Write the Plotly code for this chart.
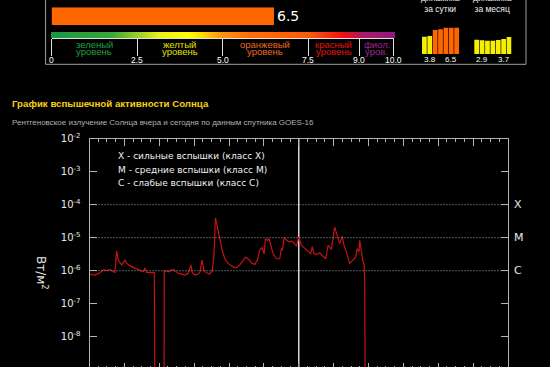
import math
import plotly.graph_objects as go

W, H = 550, 367

# ---------------- data ----------------
current_index = 6.5
scale_ticks = [0, 2.5, 5.0, 7.5, 9.0, 10.0]
scale_tick_labels = ["0", "2.5", "5.0", "7.5", "9.0", "10.0"]
level_line1 = ["зеленый", "желтый", "оранжевый", "красный", "фиол."]
level_line2 = ["уровень", "уровень", "уровень", "уровень", "уров."]
level_text_colors = ["#23a040", "#e2e000", "#ee6a1e", "#e51515", "#a0289a"]
level_bar_colors = ["#22a03c", "#f4f000", "#ff6600", "#ee1c1c", "#a3279b"]

day_values = [3.8, 4.0, 5.8, 6.0, 6.5, 6.5, 6.5]
month_values = [2.9, 2.7, 2.6, 2.6, 2.8, 3.1, 3.7]

# GOES-16 X-ray flux, hours since start of yesterday, W/m^2
hours = [0.0, 0.63, 1.20, 1.58, 1.97, 2.35, 2.73, 2.92, 3.11, 3.30, 3.68, 4.07, 4.26, 4.64,
         5.21, 5.78, 6.17, 6.36, 6.55, 7.12, 7.43, 7.50, 8.55, 8.57, 9.03, 9.60, 9.79, 10.18,
         10.56, 10.94, 11.32, 11.63, 11.78, 12.08, 12.47, 12.66, 12.92, 13.12, 13.42, 13.80,
         14.07, 14.26, 14.45, 14.76, 14.95, 15.22, 15.52, 15.90, 16.48, 16.86, 17.24, 17.51,
         17.89, 18.27, 18.58, 18.96, 19.26, 19.53, 19.80, 20.03, 20.18, 20.41, 20.60, 20.79,
         21.06, 21.44, 21.82, 22.01, 22.13, 22.32, 22.58, 22.85, 23.16, 23.46, 23.73, 24.00,
         24.30, 24.68, 25.07, 25.37, 25.56, 25.74, 26.02, 26.40, 26.78, 27.09, 27.36, 27.74,
         28.12, 28.39, 28.69, 29.00, 29.19, 29.46, 29.84, 30.22, 30.53, 30.68, 30.91, 30.99,
         31.18, 31.37, 31.48, 31.56, 31.63]
flux = [7.9e-7, 7.4e-7, 8.7e-7, 1.05e-6, 1.0e-6, 1.1e-6, 9.3e-7, 8.9e-7, 4.0e-6, 2.1e-6, 1.5e-6,
        2.1e-6, 1.7e-6, 1.4e-6, 1.2e-6, 1.0e-6, 9.3e-7, 1.2e-6, 8.9e-7, 8.7e-7, 8.9e-7, 1e-10,
        1e-10, 1.0e-6, 9.3e-7, 1.1e-6, 1.0e-6, 8.3e-7, 7.9e-7, 7.4e-7, 8.3e-7, 1.5e-6, 8.7e-7,
        7.4e-7, 7.9e-7, 9.3e-7, 2.1e-6, 1.0e-6, 8.7e-7, 7.9e-7, 1.0e-6, 2.6e-6, 4.0e-5, 1.66e-5,
        1.05e-5, 4.2e-6, 2.3e-6, 1.66e-6, 1.3e-6, 1.23e-6, 1.5e-6, 1.95e-6, 2.6e-6, 2.2e-6,
        1.7e-6, 1.55e-6, 2.1e-6, 4.2e-6, 5.0e-6, 3.2e-6, 9.3e-6, 8.3e-6, 9.3e-6, 5.9e-6, 3.3e-6,
        2.3e-6, 2.3e-6, 4.7e-6, 4.2e-6, 1.0e-5, 8.3e-6, 7.4e-6, 7.9e-6, 6.9e-6, 5.5e-6, 1.05e-5,
        5.9e-6, 4.7e-6, 3.7e-6, 3.3e-6, 5.4e-6, 3.3e-6, 3.1e-6, 3.5e-6, 2.75e-6, 2.3e-6, 5.9e-6,
        4.4e-6, 2.1e-5, 1.3e-5, 6.6e-6, 1.1e-5, 5.9e-6, 3.7e-6, 1.66e-6, 2.1e-6, 2.6e-6, 4.7e-6,
        3.7e-6, 8.3e-6, 3.3e-6, 1.86e-6, 1.66e-6, 5.2e-7, 1e-10]
time_span = [0, 48]
midnight_hour = 24
y_exponents = [-2, -3, -4, -5, -6, -7, -8, -9]
class_levels = [1e-4, 1e-5, 1e-6]
class_names = ["X", "M", "C"]
legend_lines = ["X - сильные вспышки (класс X)",
                "M - средние вспышки (класс M)",
                "C - слабые вспышки (класс C)"]
title_text = "График вспышечной активности Солнца"
subtitle_text = "Рентгеновское излучение Солнца вчера и сегодня по данным спутника GOES-16"
day_title = "динамика<br>за сутки"
month_title = "динамика<br>за месяц"

# ---------------- helpers ----------------
def px_x(p):
    return p / W

def px_y(p):
    return 1 - p / H

def level_color(v):
    for i in range(len(scale_ticks) - 1):
        if v < scale_ticks[i + 1]:
            return level_bar_colors[i]
    return level_bar_colors[-1]

DV = "DejaVu Sans"
LS = "Liberation Sans"
AX = "#b4b4b4"
MINI_FLOOR = -1.39

colorscale = [
    [0.00, "#1a9641"], [0.18, "#3aa83a"], [0.31, "#e8ee1a"], [0.40, "#ffff00"],
    [0.44, "#ffd800"], [0.50, "#ff9010"], [0.58, "#ff6c08"], [0.65, "#ff6600"],
    [0.75, "#f95a10"], [0.85, "#ee1010"], [0.91, "#a81a6a"], [1.00, "#8e1a80"],
]

fig = go.Figure()

# dotted class level lines (on the bottom-tick axis)
for lvl in class_levels:
    fig.add_trace(go.Scatter(x=time_span, y=[lvl, lvl], mode="lines", xaxis="x2", yaxis="y",
                             line=dict(color="#a8a8a8", width=1, dash="1px,2px"),
                             hoverinfo="skip", showlegend=False))

# main flux line
fig.add_trace(go.Scatter(x=hours, y=flux, mode="lines", xaxis="x", yaxis="y",
                         line=dict(color="#c81212", width=1.2), hoverinfo="skip",
                         showlegend=False))

# current index bar (colour from scale colorscale) + colour bar
fig.add_trace(go.Bar(x=[current_index], y=[0], orientation="h", width=1,
                     xaxis="x3", yaxis="y4", text=[f"{current_index:.1f}"],
                     textposition="outside", cliponaxis=False,
                     textfont=dict(family=DV, size=14, color="#ffffff"),
                     marker=dict(color=[current_index], colorscale=colorscale, cmin=0, cmax=10,
                                 showscale=True, line=dict(width=0),
                                 colorbar=dict(orientation="h", x=px_x(51), xanchor="left",
                                               y=px_y(31.7), yanchor="top",
                                               len=344, lenmode="pixels",
                                               thickness=6, thicknessmode="pixels",
                                               xpad=0, ypad=0, outlinewidth=0,
                                               ticks="", showticklabels=False)),
                     showlegend=False, hoverinfo="skip"))

# mini bars
fig.add_trace(go.Bar(x=list(range(len(day_values))), y=[v - MINI_FLOOR for v in day_values],
                     base=MINI_FLOOR, xaxis="x4", yaxis="y5",
                     marker=dict(color=[level_color(v) for v in day_values], line=dict(width=0)),
                     showlegend=False, hoverinfo="skip"))
fig.add_trace(go.Bar(x=list(range(len(month_values))), y=[v - MINI_FLOOR for v in month_values],
                     base=MINI_FLOOR, xaxis="x5", yaxis="y6",
                     marker=dict(color=[level_color(v) for v in month_values], line=dict(width=0)),
                     showlegend=False, hoverinfo="skip"))

ann = []
# scale numbers
for t, lab in zip(scale_ticks, scale_tick_labels):
    ann.append(dict(x=t, y=px_y(60), xref="x3", yref="paper", text=lab, showarrow=False,
                    xanchor="center", yanchor="middle",
                    font=dict(family=LS, size=8.5, color="#ffffff")))
# level names
for i in range(len(level_line1)):
    cx = (scale_ticks[i] + scale_ticks[i + 1]) / 2
    for txt, yy in ((level_line1[i], 44.2), (level_line2[i], 51.5)):
        ann.append(dict(x=cx, y=px_y(yy), xref="x3", yref="paper", text=txt, showarrow=False,
                        xanchor="center", yanchor="middle",
                        font=dict(family=LS, size=9.5, color=level_text_colors[i])))
# mini titles and labels
for axname, vals, title in (("x4", day_values, day_title), ("x5", month_values, month_title)):
    ann.append(dict(x=(len(vals) - 1) / 2, y=px_y(16), xref=axname, yref="paper", text=title,
                    showarrow=False, xanchor="center", yanchor="bottom",
                    font=dict(family=LS, size=8.5, color="#f0f0f0")))
    ann.append(dict(x=-0.5, y=px_y(59.7), xref=axname, yref="paper", text=f"{vals[0]:.1f}",
                    showarrow=False, xanchor="left", yanchor="middle",
                    font=dict(family=LS, size=8, color="#ffffff")))
    ann.append(dict(x=len(vals) - 0.5, y=px_y(59.7), xref=axname, yref="paper",
                    text=f"{vals[-1]:.1f}", showarrow=False, xanchor="right", yanchor="middle",
                    font=dict(family=LS, size=8, color="#ffffff")))
# headings
ann.append(dict(x=px_x(10), y=px_y(103.5), xref="paper", yref="paper", text=f"<b>{title_text}</b>",
                showarrow=False, xanchor="left", yanchor="middle",
                font=dict(family=LS, size=9.7, color="#f7d117")))
ann.append(dict(x=px_x(10), y=px_y(122.5), xref="paper", yref="paper", text=subtitle_text,
                showarrow=False, xanchor="left", yanchor="middle",
                font=dict(family=LS, size=8, color="#b0b0b0")))
# legend lines in plot
for txt, yy in zip(legend_lines, (156, 169.5, 183)):
    ann.append(dict(x=px_x(116), y=px_y(yy), xref="paper", yref="paper", text=txt,
                    showarrow=False, xanchor="left", yanchor="middle",
                    font=dict(family=DV, size=9, color="#f0f0f0")))
# class letters at right border
for lvl, name in zip(class_levels, class_names):
    ann.append(dict(x=px_x(508), y=math.log10(lvl), xref="paper", yref="y", text=name,
                    showarrow=False, xanchor="left", yanchor="middle", xshift=4,
                    font=dict(family=DV, size=11, color="#e8e8e8")))
# y title
ann.append(dict(x=px_x(42), y=px_y(273), xref="paper", yref="paper", text="Вт/м<sup>2</sup>",
                showarrow=False, textangle=90, xanchor="center", yanchor="middle",
                font=dict(family=DV, size=12, color="#e8e8e8")))

main_dom_x = [px_x(89.5), px_x(508)]
main_dom_y = [0, px_y(138.7)]
yr = [-8.918, -2]

fig.update_layout(
    width=W, height=H, autosize=False,
    margin=dict(l=0, r=0, t=0, b=0, autoexpand=False),
    paper_bgcolor="#000000", plot_bgcolor="#000000",
    bargap=0.12, showlegend=False,
    annotations=ann,
    xaxis=dict(domain=main_dom_x, range=time_span, anchor="y", side="top", showline=True,
               linecolor=AX, linewidth=1, showgrid=False, zeroline=False,
               ticks="inside", ticklen=7, tickcolor=AX, dtick=4, tick0=0,
               showticklabels=False,
               minor=dict(dtick=1, ticks="inside", ticklen=3.5, tickcolor=AX)),
    xaxis2=dict(overlaying="x", side="bottom", range=time_span, anchor="y", showline=False,
                showgrid=False, zeroline=False, ticks="inside", ticklen=4, tickcolor=AX,
                dtick=4, tick0=0, showticklabels=False,
                minor=dict(dtick=1, ticks="inside", ticklen=1.5, tickcolor=AX)),
    yaxis=dict(domain=main_dom_y, type="log", range=yr, anchor="x", showline=True,
               mirror="ticks", linecolor=AX, linewidth=1, showgrid=False, zeroline=False,
               tickvals=[10.0 ** e for e in y_exponents],
               ticktext=[f"10<sup>{e}</sup>" for e in y_exponents],
               ticks="inside", ticklen=7, tickcolor=AX, ticklabelstandoff=6,
               tickfont=dict(family=DV, size=10, color="#e8e8e8")),
    xaxis3=dict(domain=[px_x(51.6), px_x(393.7)], range=[0, 10], anchor="free",
                position=px_y(38.3), showline=True, linecolor="#e0e0e0", linewidth=1,
                showgrid=False, zeroline=False, ticks="outside", ticklen=17, tickwidth=1,
                tickcolor="#e0e0e0", tickvals=scale_ticks, showticklabels=False),
    yaxis4=dict(domain=[px_y(25), px_y(7.3)], range=[-0.5, 0.5], anchor="x3", visible=False),
    xaxis4=dict(domain=[px_x(421.7), px_x(459.3)], range=[-0.5, len(day_values) - 0.5],
                anchor="y5", visible=False),
    yaxis5=dict(domain=[px_y(54), px_y(24)], range=[MINI_FLOOR, MINI_FLOOR + 9], anchor="x4",
                visible=False),
    xaxis5=dict(domain=[px_x(474), px_x(511.7)], range=[-0.5, len(month_values) - 0.5],
                anchor="y6", visible=False),
    yaxis6=dict(domain=[px_y(54), px_y(24)], range=[MINI_FLOOR, MINI_FLOOR + 9], anchor="x5",
                visible=False),
    shapes=[
        dict(type="line", xref="x", yref="y domain", x0=midnight_hour, x1=midnight_hour,
             y0=0, y1=1, line=dict(color="#d8d8d8", width=1.5), layer="below"),
        dict(type="rect", xref="paper", yref="paper", x0=px_x(45.6), x1=px_x(526),
             y0=px_y(64.3), y1=1.05, line=dict(color="#a0a0a0", width=1),
             fillcolor="rgba(0,0,0,0)"),
    ],
)

fig.write_html(
    "out.html",
    config={"displayModeBar": False, "staticPlot": True},
    post_script=(
        "document.documentElement.style.margin='0';document.documentElement.style.padding='0';"
        "document.documentElement.style.overflow='hidden';"
        "document.body.style.margin='0';document.body.style.padding='0';"
        "document.body.style.overflow='hidden';document.body.style.background='#000';"
        "var d=document.getElementById('{plot_id}');"
        "d.style.position='fixed';d.style.top='0px';d.style.left='0px';"
    ),
)
